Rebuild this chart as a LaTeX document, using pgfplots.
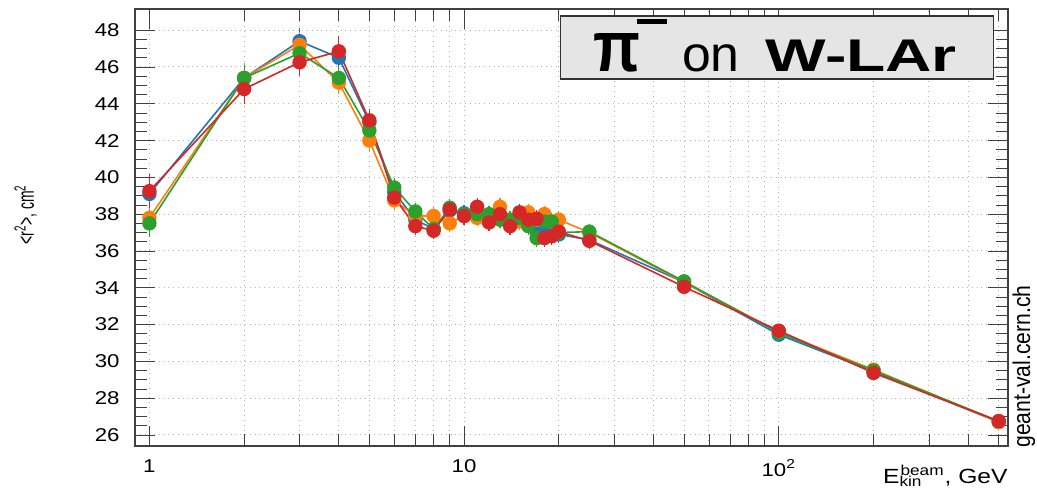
\documentclass[border=0pt]{standalone}
\usepackage{fontspec}
\setmainfont{Liberation Sans}[FakeStretch=1.2]
\newfontfamily\plainsans{Liberation Sans}
\usepackage{graphicx}
\usepackage{pgfplots}
\pgfplotsset{compat=1.18}
\usepackage{pgfplotstable}

\definecolor{cblue}{HTML}{1F77B4}
\definecolor{corange}{HTML}{FF7F0E}
\definecolor{cgreen}{HTML}{2CA02C}
\definecolor{cred}{HTML}{D62728}

% energy [GeV], <r^2> [cm^2], error
\pgfplotstableread{
e v err
1 39.1 0.5
2 45.4 0.5
3 47.4 0.5
4 46.5 0.4
5 43.0 0.4
6 39.2 0.3
7 37.7 0.25
8 37.2 0.25
9 38.2 0.25
10 38.05 0.25
11 38.1 0.25
12 37.8 0.25
13 37.8 0.25
14 37.5 0.25
15 37.7 0.25
16 37.4 0.25
17 37.0 0.25
18 36.9 0.25
19 36.9 0.25
20 36.9 0.25
25 36.6 0.2
50 34.3 0.15
100 31.45 0.15
200 29.45 0.15
500 26.7 0.15
}\blue
\pgfplotstableread{
e v err
1 37.8 0.5
2 45.4 0.6
3 47.2 0.5
4 45.15 0.4
5 42.0 0.4
6 38.75 0.3
7 37.9 0.25
8 37.9 0.25
9 37.5 0.25
10 37.9 0.25
11 37.8 0.25
12 37.9 0.25
13 38.4 0.25
14 37.7 0.25
15 37.6 0.25
16 38.1 0.25
17 37.7 0.25
18 38.0 0.25
19 37.6 0.25
20 37.7 0.25
25 37.0 0.2
50 34.3 0.15
100 31.6 0.15
200 29.55 0.15
500 26.7 0.15
}\orange
\pgfplotstableread{
e v err
1 37.5 0.5
2 45.4 0.5
3 46.75 0.5
4 45.4 0.4
5 42.55 0.4
6 39.45 0.3
7 38.15 0.25
8 37.2 0.25
9 38.35 0.25
10 38.0 0.25
11 38.0 0.25
12 38.0 0.25
13 37.7 0.25
14 37.7 0.25
15 37.8 0.25
16 37.35 0.25
17 36.7 0.25
18 37.6 0.25
19 37.6 0.25
20 37.0 0.25
25 37.05 0.2
50 34.35 0.15
100 31.55 0.15
200 29.5 0.15
500 26.75 0.15
}\green
\pgfplotstableread{
e v err
1 39.25 0.7
2 44.8 0.6
3 46.25 0.5
4 46.85 0.6
5 43.1 0.4
6 38.9 0.3
7 37.35 0.25
8 37.1 0.25
9 38.25 0.25
10 37.9 0.25
11 38.4 0.25
12 37.55 0.25
13 38.0 0.25
14 37.35 0.25
15 38.1 0.25
16 37.7 0.25
17 37.75 0.25
18 36.7 0.25
19 36.8 0.25
20 37.05 0.25
25 36.55 0.2
50 34.05 0.15
100 31.67 0.15
200 29.37 0.15
500 26.75 0.15
}\red

\pgfplotsset{
  series/.style={color=#1, line width=0.8bp, mark=*, mark size=3.2bp,
    mark options={solid, fill=#1, draw=#1},
    error bars/.cd, y dir=both, y explicit,
    error bar style={line width=0.6bp, #1},
    error mark options={mark size=2bp, line width=0.6bp, #1}},
}

\begin{document}
\begin{tikzpicture}
\begin{axis}[name=ax, scale only axis, width=436.5bp, height=218.5bp,
  xmode=log, xmin=0.9, xmax=535, ymin=25.4, ymax=49.15,
  xtick={1,10,100}, xticklabels={1,10,10\textsuperscript{2}},
  minor xtick={2,3,4,5,6,7,8,9,20,30,40,50,60,70,80,90,200,300,400,500},
  ytick={26,28,...,48}, minor y tick num=3,
  tick align=inside, tick pos=both,
  major tick length=10bp, minor tick length=6bp,
  every tick/.style={black!75, line width=0.4bp},
  axis line style={black!75, line width=0.6bp},
  xmajorgrids, xminorgrids, ymajorgrids,
  grid style={gray!60, dotted, line width=0.5bp},
  minor grid style={gray!60, dotted, line width=0.5bp},
  /pgf/number format/assume math mode=true,
  ticklabel style={font=\fontsize{9.3}{11}\selectfont, inner sep=0pt},
  xticklabel style={yshift=-6.5bp},
  yticklabel style={xshift=-7.5bp},
  clip=false]
\addplot[series=cblue] table[x=e, y=v, y error=err] {\blue};
\addplot[series=corange] table[x=e, y=v, y error=err] {\orange};
\addplot[series=cgreen] table[x=e, y=v, y error=err] {\green};
\addplot[series=cred] table[x=e, y=v, y error=err] {\red};

\draw[black!80, line width=0.6bp, fill=black!10] (rel axis cs:0.487,0.840) rectangle (rel axis cs:0.983,0.984);
\node[anchor=base west, inner sep=0pt] at (rel axis cs:0.5243,0.858) {\plainsans
  \resizebox{23.5bp}{19bp}{\textbf{π}}\kern-1.5bp\raisebox{23.5bp}{\rule{15bp}{2.35bp}}\kern7.5bp
  \scalebox{1.04}[1]{\fontsize{25}{30}\selectfont on}\kern13bp
  \scalebox{1.4}[1]{\fontsize{23}{26}\selectfont\textbf{W-LAr}}};

\node[rotate=90, anchor=base, inner sep=0pt] at ([xshift=-50.5bp]rel axis cs:0,0.529)
  {\plainsans\scalebox{0.7}[1.15]{\fontsize{10}{12}\selectfont <r\textsuperscript{2}>, cm\textsuperscript{2}}};
\node[anchor=base east, inner sep=0pt] at ([yshift=-18.5bp]rel axis cs:1,0)
  {\fontsize{10.3}{12}\selectfont E\textsubscript{\rlap{kin}}\textsuperscript{beam}, GeV};
\node[rotate=90, anchor=base west, inner sep=0pt] at ([xshift=11bp, yshift=-1bp]rel axis cs:1,0)
  {\plainsans\scalebox{1}[1.15]{\fontsize{10.6}{12}\selectfont geant-val.cern.ch}};
\end{axis}
\pgfresetboundingbox
\path[use as bounding box] ([xshift=-67.5bp, yshift=-23.5bp]ax.south west) rectangle ([xshift=14.5bp, yshift=4.5bp]ax.north east);
\end{tikzpicture}
\end{document}
